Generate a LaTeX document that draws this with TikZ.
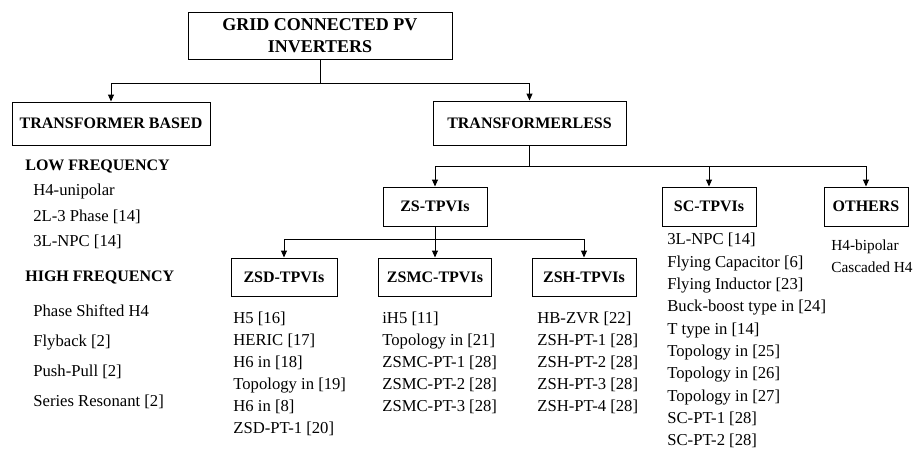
\documentclass[tikz,border=0pt]{standalone}
\usepackage{fontspec}
\setmainfont{Liberation Serif}
\usetikzlibrary{arrows.meta,positioning,calc}

\begin{document}
\begin{tikzpicture}[
  x=0.6pt, y=-0.6pt,
  >={Triangle[length=4.2pt,width=3.6pt]},
  box/.style={draw, line width=0.6pt, inner sep=0pt, align=center,
              font=\fontsize{9.6}{13.2}\selectfont\bfseries},
  head/.style={anchor=north west, inner sep=0pt,
              font=\fontsize{9.6}{12}\selectfont\bfseries},
  list/.style={anchor=north west, inner sep=0pt, align=left,
              font=\fontsize{10}{13.2}\selectfont},
  arr/.style={->, line width=0.6pt},
  link/.style={line width=0.6pt},
]
\useasboundingbox (0,0) rectangle (914,454);

% === Top level ===
\node[box, minimum width=158.4pt, minimum height=28.2pt,
      font=\fontsize{10.8}{13.2}\selectfont\bfseries] (root) at (320,35.5) {GRID CONNECTED PV\\INVERTERS};

\node[box, minimum width=118.8pt, minimum height=25.8pt] (tb) at (111,123.5) {TRANSFORMER BASED};
\node[box, minimum width=115.8pt, minimum height=26.4pt] (tl) at (529.5,123) {TRANSFORMERLESS};

\coordinate (j0) at (320,83);
\draw[link] (root.south) -- (j0);
\draw[arr] (j0) -| (tb);
\draw[arr] (j0) -| (tl);

% === Transformer based ===
\node[head] (lowh) at (25,160) {LOW FREQUENCY};
\node[list, font=\fontsize{10}{15.3}\selectfont] (lowl) at (33,184) {H4-unipolar\\2L-3 Phase [14]\\3L-NPC [14]};
\node[head] (highh) at (25,271) {HIGH FREQUENCY};
\node[list, font=\fontsize{10}{18}\selectfont] (highl) at (33,304) {Phase Shifted H4\\Flyback [2]\\Push-Pull [2]\\Series Resonant [2]};

% === Transformerless ===
\node[box, minimum width=62.4pt, minimum height=23.4pt] (zs) at (435,206.5) {ZS-TPVIs};
\node[box, minimum width=56.4pt, minimum height=23.4pt] (sc) at (709,206.5) {SC-TPVIs};
\node[box, minimum width=50.4pt, minimum height=23.4pt] (oth) at (866,206.5) {OTHERS};

\coordinate (j1) at (529.5,166);
\draw[link] (tl.south) -- (j1);
\draw[arr] (j1) -| (zs);
\draw[arr] (j1) -| (sc);
\draw[arr] (j1) -| (oth);

\node[list, font=\fontsize{10}{13.4}\selectfont] (scl) at (667,233) {3L-NPC [14]\\Flying Capacitor [6]\\Flying Inductor [23]\\Buck-boost type in [24]\\T type in [14]\\Topology in [25]\\Topology in [26]\\Topology in [27]\\SC-PT-1 [28]\\SC-PT-2 [28]};
\node[list, font=\fontsize{9.2}{13.2}\selectfont] (othl) at (831,240) {H4-bipolar\\Cascaded H4};

% === ZS-TPVIs ===
\node[box, minimum width=63.6pt, minimum height=22.8pt] (zsd) at (284,277) {ZSD-TPVIs};
\node[box, minimum width=67.8pt, minimum height=22.8pt] (zsmc) at (435,277) {ZSMC-TPVIs};
\node[box, minimum width=62.4pt, minimum height=22.8pt] (zsh) at (584,277) {ZSH-TPVIs};

\coordinate (j2) at (435,239);
\draw[link] (zs.south) -- (j2);
\draw[arr] (j2) -| (zsd);
\draw[arr] (j2) -- (zsmc);
\draw[arr] (j2) -| (zsh);

\node[list] (zsdl) at (233,312) {H5 [16]\\HERIC [17]\\H6 in [18]\\Topology in [19]\\H6 in [8]\\ZSD-PT-1 [20]};
\node[list] (zsmcl) at (382,312) {iH5 [11]\\Topology in [21]\\ZSMC-PT-1 [28]\\ZSMC-PT-2 [28]\\ZSMC-PT-3 [28]};
\node[list] (zshl) at (537,312) {HB-ZVR [22]\\ZSH-PT-1 [28]\\ZSH-PT-2 [28]\\ZSH-PT-3 [28]\\ZSH-PT-4 [28]};

\end{tikzpicture}
\end{document}
